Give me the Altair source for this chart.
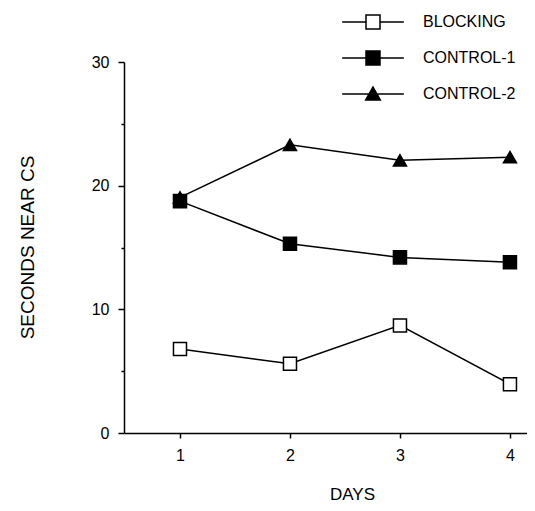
import altair as alt
import pandas as pd

series = ["BLOCKING", "CONTROL-1", "CONTROL-2"]
days = [1, 2, 3, 4]
blocking = [6.8, 5.6, 8.7, 3.95]
control1 = [18.75, 15.3, 14.2, 13.8]
control2 = [19.05, 23.3, 22.05, 22.3]
y_ticks = [0, 5, 10, 15, 20, 25, 30]

rows = []
for name, vals in [("CONTROL-2", control2), ("CONTROL-1", control1), ("BLOCKING", blocking)]:
    for d, v in zip(days, vals):
        rows.append({"series": name, "day": d, "value": v})
df = pd.DataFrame(rows)

FONT = "Liberation Sans"

x_enc = alt.X(
    "day:Q",
    scale=alt.Scale(domain=[0.491, 4.155], nice=False, zero=False),
    axis=alt.Axis(
        values=days, title="DAYS", grid=False, tickSize=5, labelPadding=9,
        labelFontSize=16, titleFontSize=17, titleFontWeight="normal",
        titleX=228, titleY=66, titleBaseline="alphabetic", titleAlign="center",
        domainColor="black", tickColor="black", domainWidth=1.5, tickWidth=1.5,
        labelColor="black", titleColor="black", labelFont=FONT, titleFont=FONT,
    ),
)
y_enc = alt.Y(
    "value:Q",
    scale=alt.Scale(domain=[0, 30], nice=False),
    axis=alt.Axis(
        values=y_ticks, title="SECONDS NEAR CS", grid=False,
        tickSize={"condition": {"test": "datum.value % 10 === 0", "value": 6}, "value": 3},
        labelExpr="datum.value % 10 === 0 ? datum.label : ''",
        labelPadding=9, labelFontSize=16, titleFontSize=19, titleFontWeight="normal",
        titleX=-97, titleY=185, titleAngle=270, titleAlign="center", titleBaseline="middle",
        domainColor="black", tickColor="black", domainWidth=1.5, tickWidth=1.5,
        labelColor="black", titleColor="black", labelFont=FONT, titleFont=FONT,
    ),
)

lines = alt.Chart(df).mark_line(color="black", strokeWidth=1.5).encode(
    x=x_enc, y=y_enc, detail="series:N"
)

points = alt.Chart(df).mark_point(filled=False, stroke="black", strokeWidth=1.5, opacity=1, size=170).encode(
    x=x_enc, y=y_enc,
    shape=alt.Shape("series:N", scale=alt.Scale(domain=series, range=["square", "square", "triangle-up"]), legend=None),
    fill=alt.Fill("series:N", scale=alt.Scale(domain=series, range=["white", "black", "black"]), legend=None),
)

sq_path = "M-4.4,0H-1M1,0H4.4M-1,-1H1V1H-1Z"
tri_path = "M-4.4,0H4.4M0,-1L1.05,0.85H-1.05Z"


def make_legend():
    return alt.Legend(
        title=None, orient="none", legendX=241, legendY=-48, padding=0,
        symbolSize=196, symbolOpacity=1, symbolStrokeColor="black", symbolStrokeWidth=1.5,
        labelFontSize=16, labelFont=FONT, labelColor="black", labelOffset=42,
        rowPadding=16, labelLimit=200,
    )


legend_layer = alt.Chart(df).mark_point(filled=False, strokeWidth=1.5, opacity=0, size=196).encode(
    x=x_enc, y=y_enc,
    shape=alt.Shape("series:N", scale=alt.Scale(domain=series, range=[sq_path, sq_path, tri_path]), legend=make_legend()),
    fill=alt.Fill("series:N", scale=alt.Scale(domain=series, range=["white", "black", "black"]), legend=make_legend()),
    stroke=alt.Stroke("series:N", scale=alt.Scale(domain=series, range=["black", "black", "black"]), legend=make_legend()),
)

chart = (
    alt.layer(lines, points, legend_layer)
    .resolve_scale(shape="independent", fill="independent", stroke="independent")
    .properties(
        width=403, height=371,
        autosize=alt.AutoSizeParams(type="none"),
        padding={"left": 116, "top": 54, "right": 0, "bottom": 70},
        view=alt.ViewBackground(stroke=None, strokeWidth=0),
    )
    .configure_view(strokeWidth=0, stroke=None)
    .configure_axis(gridColor="transparent", gridOpacity=0)
    .configure(background="white")
)

chart.save("out.html", embed_options={"renderer": "svg", "actions": False})
